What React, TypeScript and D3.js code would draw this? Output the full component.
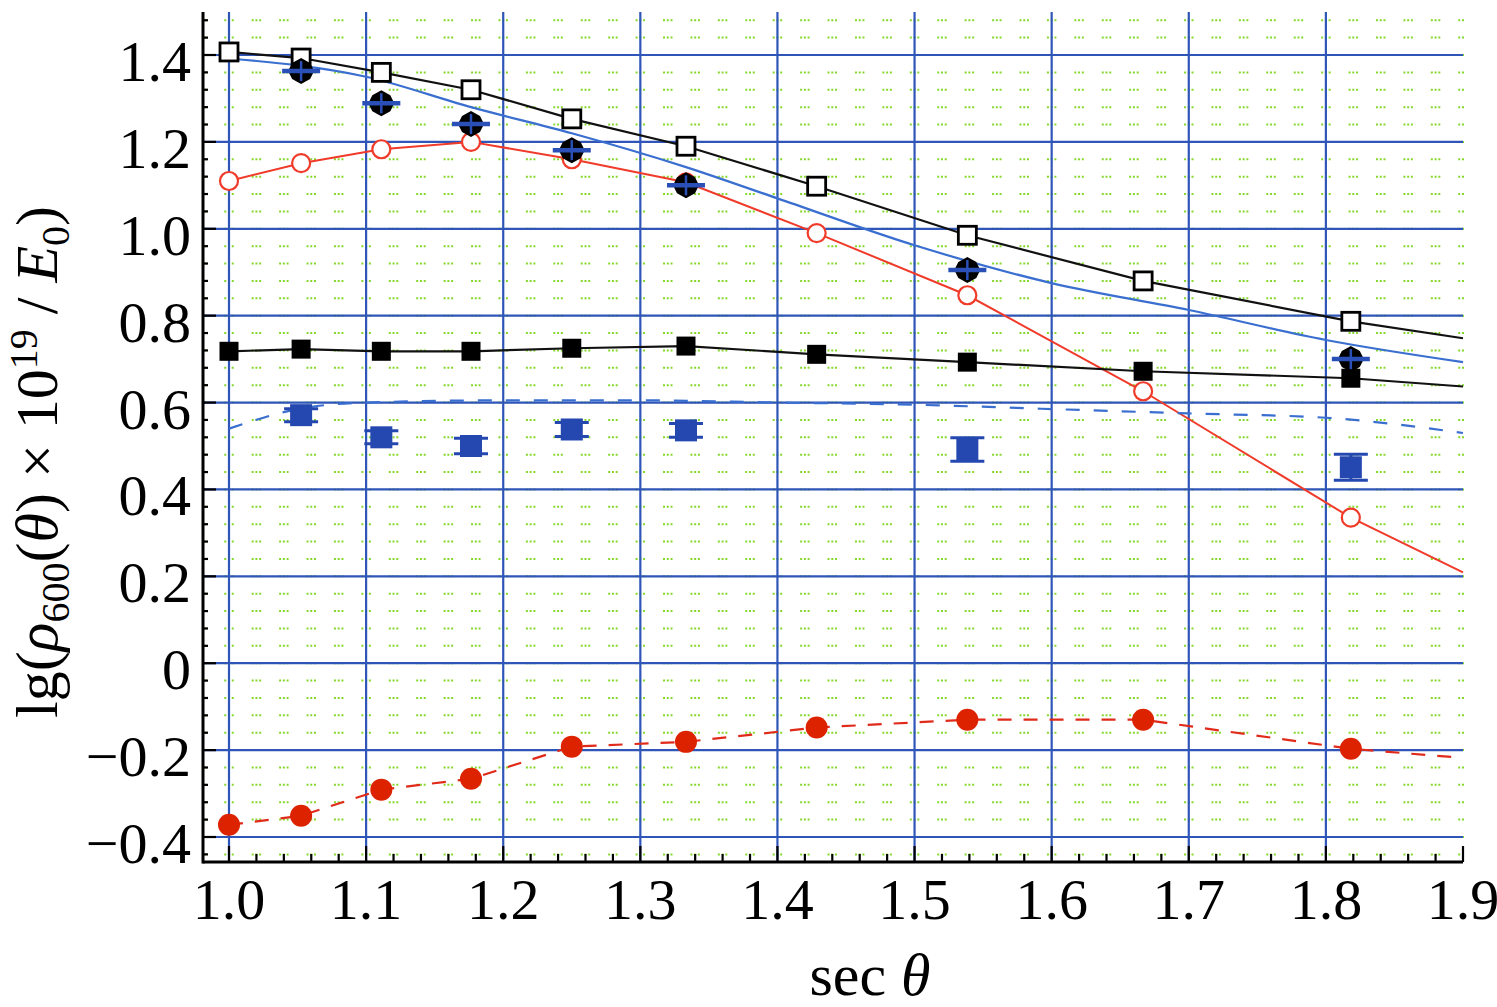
import * as d3 from 'd3';

// sec(theta) of the measured zenith bins
const secTheta = [1.0, 1.0526, 1.1111, 1.1765, 1.25, 1.3333, 1.4286, 1.5385, 1.6667, 1.8182];
const secThetaErr = [1.0526, 1.1111, 1.1765, 1.25, 1.3333, 1.5385, 1.8182];

const openSquare = [1.407, 1.393, 1.36, 1.32, 1.253, 1.19, 1.098, 0.985, 0.88, 0.787];
const openSquareEnd = 0.748;
const openCircle = [1.11, 1.151, 1.183, 1.2, 1.16, 1.107, 0.99, 0.847, 0.626, 0.335];
const openCircleEnd = 0.209;
const fullSquare = [0.718, 0.723, 0.718, 0.718, 0.725, 0.73, 0.711, 0.693, 0.672, 0.656];
const fullSquareEnd = 0.637;
const fullCircle = [-0.372, -0.351, -0.291, -0.266, -0.192, -0.181, -0.148, -0.13, -0.13, -0.197];
const fullCircleEnd = -0.218;

const diamond = [1.363, 1.289, 1.241, 1.181, 1.1, 0.905, 0.7];
const blueSquare = [0.571, 0.52, 0.5, 0.538, 0.536, 0.492, 0.451];
const blueSquareErr = [0.015, 0.015, 0.018, 0.016, 0.016, 0.027, 0.03];

const blueFitX = [1.0, 1.1, 1.1765, 1.25, 1.3333, 1.4, 1.5, 1.6, 1.7, 1.8, 1.9];
const blueFit = [1.392, 1.35, 1.28, 1.22, 1.142, 1.07, 0.962, 0.875, 0.813, 0.744, 0.693];
const dashFitX = [1.0, 1.05, 1.1, 1.2, 1.3, 1.4, 1.5, 1.6, 1.7, 1.8, 1.9];
const dashFit = [0.54, 0.585, 0.6, 0.605, 0.605, 0.6, 0.595, 0.585, 0.575, 0.565, 0.53];

const xTicks = [1.0, 1.1, 1.2, 1.3, 1.4, 1.5, 1.6, 1.7, 1.8, 1.9];
const yTicks = [-0.4, -0.2, 0, 0.2, 0.4, 0.6, 0.8, 1.0, 1.2, 1.4];

const W = 1497;
const H = 1007;
const left = 203, right = 1463, top = 12, bottom = 862;

const x = d3.scaleLinear().domain([1.0, 1.9]).range([229, 1463]);
const y = d3.scaleLinear().domain([-0.4, 1.4]).range([837, 55]);
const y0 = y.invert(bottom);
const y1 = y.invert(top);

const line = d3.line<[number, number]>().x(d => x(d[0])).y(d => y(d[1]));
const curve = d3.line<[number, number]>().x(d => x(d[0])).y(d => y(d[1])).curve(d3.curveMonotoneX);

const zip = (xs: number[], ys: number[]) => xs.map((v, i) => [v, ys[i]] as [number, number]);

const green = '#86d82c';
const gridBlue = '#2f55b8';
const serif = '"Liberation Serif", "DejaVu Serif", serif';

export default function App() {
  const minorX = d3.range(0, 47).map(i => 0.98 + i * 0.02).filter(v => v <= 1.9001 && x(v) > left + 2);
  const minorY = d3.range(-0.44, 1.5, 0.04).filter(v => v >= y0 && v <= y1);
  const px = x(1.02) - x(1.0);   // minor x spacing in px
  const py = y(0) - y(0.04);     // minor y spacing in px
  const d = 2;
  // horizontal rows: a pair of dots around every minor x line
  const hDash = `${d} 5.5 ${d} ${px - 2 * d - 5.5}`;
  const hOff = ((left - x(1.0)) % px + px) % px + d + 2.75;
  // vertical lines: one dot on every minor row
  const vDash = `${d} ${py - d}`;
  const vOff = ((y(1.48) - top) % py + py) % py - d / 2;

  const fmtY = (v: number) => (Math.abs(v) < 1e-9 ? '0' : (v < 0 ? '\u2212' : '') + Math.abs(v).toFixed(1));

  return (
    <svg width={W} height={H} style={{ position: 'absolute', left: 0, top: 0, background: '#fff' }}>
      {/* green dotted minor grid */}
      <g stroke={green} strokeWidth={2}>
        {minorX.map((v, i) => (
          <line key={'gx' + i} x1={x(v)} x2={x(v)} y1={top} y2={bottom}
            strokeDasharray={vDash} strokeDashoffset={-vOff} />
        ))}
        {minorY.map((v, i) => (
          <line key={'gy' + i} x1={left} x2={right} y1={y(v)} y2={y(v)}
            strokeDasharray={hDash} strokeDashoffset={hOff} />
        ))}
      </g>
      {/* blue major grid */}
      <g stroke={gridBlue} strokeWidth={2.2}>
        {xTicks.slice(0, -1).map(v => (
          <line key={'bx' + v} x1={x(v)} x2={x(v)} y1={top} y2={bottom} />
        ))}
        {yTicks.map(v => (
          <line key={'by' + v} x1={left} x2={right} y1={y(v)} y2={y(v)} />
        ))}
      </g>

      {/* fit curves */}
      <path d={line([...zip(secTheta, openSquare), [1.9, openSquareEnd]])!} fill="none" stroke="#111" strokeWidth={2.2} />
      <path d={curve(zip(blueFitX, blueFit))!} fill="none" stroke="#3a6fd0" strokeWidth={2.2} />
      <path d={line([...zip(secTheta, openCircle), [1.9, openCircleEnd]])!} fill="none" stroke="#f03a2a" strokeWidth={2} />
      <path d={line([...zip(secTheta, fullSquare), [1.9, fullSquareEnd]])!} fill="none" stroke="#111" strokeWidth={2.2} />
      <path d={curve(zip(dashFitX, dashFit))!} fill="none" stroke="#3a6fd0" strokeWidth={2.2} strokeDasharray="14 14" />
      <path d={line([...zip(secTheta, fullCircle), [1.9, fullCircleEnd]])!} fill="none" stroke="#e02a1a" strokeWidth={2.2} strokeDasharray="14 12" />

      {/* open squares */}
      {secTheta.map((v, i) => (
        <rect key={'os' + i} x={x(v) - 9} y={y(openSquare[i]) - 9} width={18} height={18} fill="#fff" stroke="#000" strokeWidth={2.8} />
      ))}
      {/* open circles */}
      {secTheta.map((v, i) => (
        <circle key={'oc' + i} cx={x(v)} cy={y(openCircle[i])} r={9} fill="#fff" stroke="#f03a2a" strokeWidth={2.2} />
      ))}
      {/* filled squares */}
      {secTheta.map((v, i) => (
        <rect key={'fs' + i} x={x(v) - 9.5} y={y(fullSquare[i]) - 9.5} width={19} height={19} fill="#000" />
      ))}
      {/* filled red circles */}
      {secTheta.map((v, i) => (
        <circle key={'fc' + i} cx={x(v)} cy={y(fullCircle[i])} r={11} fill="#dd2200" />
      ))}
      {/* black markers with blue bars */}
      {secThetaErr.map((v, i) => {
        const cx = x(v), cy = y(diamond[i]);
        return (
          <g key={'dm' + i}>
            <path d={`M${cx},${cy - 13} L${cx + 9},${cy - 8} L${cx + 13},${cy} L${cx + 9},${cy + 8} L${cx},${cy + 13} L${cx - 9},${cy + 8} L${cx - 13},${cy} L${cx - 9},${cy - 8} Z`} fill="#000" />
            <line x1={cx - 19} x2={cx + 19} y1={cy} y2={cy} stroke="#2a50b8" strokeWidth={4.5} />
            <line x1={cx} x2={cx} y1={cy - 10} y2={cy + 10} stroke="#2a50b8" strokeWidth={2.5} />
          </g>
        );
      })}
      {/* blue squares with error caps */}
      {secThetaErr.map((v, i) => {
        const cx = x(v), cy = y(blueSquare[i]);
        const ya = y(blueSquare[i] + blueSquareErr[i]), yb = y(blueSquare[i] - blueSquareErr[i]);
        return (
          <g key={'bs' + i}>
            <line x1={cx} x2={cx} y1={ya} y2={yb} stroke="#2548b0" strokeWidth={3} />
            <line x1={cx - 17} x2={cx + 17} y1={ya} y2={ya} stroke="#2548b0" strokeWidth={3} />
            <line x1={cx - 17} x2={cx + 17} y1={yb} y2={yb} stroke="#2548b0" strokeWidth={3} />
            <rect x={cx - 11} y={cy - 11} width={22} height={22} fill="#2548b0" />
          </g>
        );
      })}

      {/* axes */}
      <g stroke="#000" strokeWidth={3}>
        <line x1={left} x2={left} y1={top} y2={bottom + 1.5} />
        <line x1={left} x2={right} y1={bottom} y2={bottom} />
      </g>
      <g stroke="#000" strokeWidth={2.2}>
        {minorX.map((v, i) => {
          const major = Math.abs(v * 10 - Math.round(v * 10)) < 1e-6;
          return <line key={'tx' + i} x1={x(v)} x2={x(v)} y1={bottom} y2={bottom - (major ? 16 : 8)} />;
        })}
        {minorY.map((v, i) => {
          const major = Math.abs(v * 5 - Math.round(v * 5)) < 1e-6;
          return <line key={'ty' + i} x1={left} x2={left + (major ? 13 : 5)} y1={y(v)} y2={y(v)} />;
        })}
      </g>
      <g fontFamily={serif} fontSize={58} fill="#000">
        {xTicks.map(v => (
          <text key={'lx' + v} x={x(v)} y={919} textAnchor="middle">{v.toFixed(1)}</text>
        ))}
        {yTicks.map(v => (
          <text key={'ly' + v} x={191} y={y(v) + 26} textAnchor="end">{fmtY(v)}</text>
        ))}
      </g>
      <text x={870} y={995} fontFamily={serif} fontSize={60} textAnchor="middle">
        sec <tspan fontStyle="italic">θ</tspan>
      </text>
      <text transform="translate(57,462) rotate(-90)" fontFamily={serif} fontSize={60} textAnchor="middle">
        lg(<tspan fontStyle="italic">ρ</tspan>
        <tspan fontSize={40} dy={12}>600</tspan>
        <tspan dy={-12}>(</tspan><tspan fontStyle="italic">θ</tspan>)  ×  10
        <tspan fontSize={40} dy={-20}>19</tspan>
        <tspan dy={20}> / </tspan><tspan fontStyle="italic">E</tspan>
        <tspan fontSize={40} dy={12}>0</tspan>
        <tspan dy={-12}>)</tspan>
      </text>
    </svg>
  );
}
